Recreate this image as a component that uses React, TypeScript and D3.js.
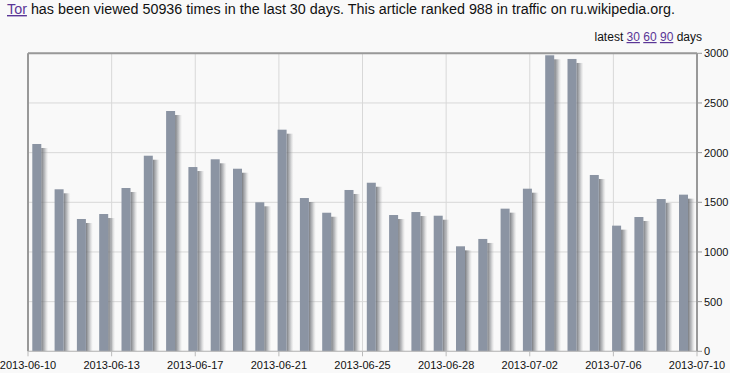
import React from "react";
import * as d3 from "d3";

const dates = [
  "2013-06-10","2013-06-11","2013-06-12","2013-06-13","2013-06-14","2013-06-15","2013-06-16","2013-06-17","2013-06-18","2013-06-19",
  "2013-06-20","2013-06-21","2013-06-22","2013-06-23","2013-06-24","2013-06-25","2013-06-26","2013-06-27","2013-06-28","2013-06-29",
  "2013-06-30","2013-07-01","2013-07-02","2013-07-03","2013-07-04","2013-07-05","2013-07-06","2013-07-07","2013-07-08","2013-07-09",
];
const views = [
  2087, 1631, 1332, 1382, 1644, 1969, 2419, 1855, 1933, 1838,
  1500, 2231, 1543, 1395, 1624, 1697, 1372, 1402, 1365, 1057,
  1131, 1436, 1637, 2980, 2943, 1775, 1265, 1352, 1533, 1577,
];
const xTickLabels = [
  "2013-06-10","2013-06-13","2013-06-17","2013-06-21","2013-06-25",
  "2013-06-28","2013-07-02","2013-07-06","2013-07-10",
];
const yTicks = [0, 500, 1000, 1500, 2000, 2500, 3000];

const W = 730, H = 373;
const left = 28, right = 697, top = 53.3, bottom = 351.3;
const font = "'Liberation Sans', Arial, sans-serif";

export default function App() {
  const x = d3.scaleLinear().domain([0, dates.length]).range([left, right]);
  const y = d3.scaleLinear().domain([0, 3000]).range([bottom, top]);
  const xt = d3.scaleLinear().domain([0, xTickLabels.length - 1]).range([left, right]);
  const barW = 9;
  const barOff = 4.3;
  return (
    <div style={{ position: "fixed", left: 0, top: 0, width: W, height: H, background: "#f9f9f9" }}>
      <svg width={W} height={H} style={{ display: "block" }}>
        <defs>
          <linearGradient id="sh" x1="0" x2="1" y1="0" y2="0">
            <stop offset="0" stopColor="#62656b" stopOpacity="0.85" />
            <stop offset="0.5" stopColor="#85888d" stopOpacity="0.5" />
            <stop offset="1" stopColor="#bbbbbb" stopOpacity="0" />
          </linearGradient>
        </defs>
        <text x={7} y={14} fontFamily={font} fontSize={14} fill="#111" textLength={668} lengthAdjust="spacingAndGlyphs">
          <tspan fill="#5a3696" textDecoration="underline">Tor</tspan>
          <tspan> has been viewed 50936 times in the last 30 days. This article ranked 988 in traffic on ru.wikipedia.org.</tspan>
        </text>
        <text x={702} y={41} textAnchor="end" fontFamily={font} fontSize={12} fill="#111">
          <tspan>latest </tspan>
          <tspan fill="#5a3696" textDecoration="underline">30</tspan>
          <tspan> </tspan>
          <tspan fill="#5a3696" textDecoration="underline">60</tspan>
          <tspan> </tspan>
          <tspan fill="#5a3696" textDecoration="underline">90</tspan>
          <tspan> days</tspan>
        </text>
        {/* grid */}
        {yTicks.map((t) => (
          <line key={"gy" + t} x1={left} x2={right} y1={y(t)} y2={y(t)} stroke="#d8d8d8" strokeWidth={1} />
        ))}
        {xTickLabels.map((_, i) => (
          <line key={"gx" + i} x1={xt(i)} x2={xt(i)} y1={top} y2={bottom} stroke="#d8d8d8" strokeWidth={1} />
        ))}
        {/* bars */}
        {views.map((v, i) => {
          const bx = x(i) + barOff;
          const by = y(v);
          return (
            <g key={"b" + i}>
              <rect x={bx + barW} y={by + 4} width={7} height={bottom - by - 4} fill="url(#sh)" />
              <rect x={bx} y={by} width={barW} height={bottom - by} fill="#8b94a3" />
            </g>
          );
        })}
        {/* frame */}
        <line x1={left} x2={right} y1={top} y2={top} stroke="#999" strokeWidth={2} />
        <line x1={left} x2={left} y1={top} y2={bottom} stroke="#999" strokeWidth={2} />
        <line x1={right} x2={right} y1={top} y2={bottom} stroke="#999" strokeWidth={2} />
        <line x1={left} x2={right} y1={bottom} y2={bottom} stroke="#bbb" strokeWidth={1} />
        {/* y axis ticks on right */}
        {yTicks.map((t) => (
          <g key={"yt" + t}>
            <line x1={right} x2={right + 5} y1={y(t)} y2={y(t)} stroke="#999" />
            <text x={704} y={y(t) + 4} fontFamily={font} fontSize={11} fill="#111">{t}</text>
          </g>
        ))}
        {/* x axis ticks */}
        {xTickLabels.map((lab, i) => (
          <g key={"xt" + i}>
            <line x1={xt(i)} x2={xt(i)} y1={bottom} y2={bottom + 5} stroke="#bbb" />
            <text x={xt(i)} y={369} textAnchor="middle" fontFamily={font} fontSize={11} fill="#111">{lab}</text>
          </g>
        ))}
      </svg>
    </div>
  );
}
